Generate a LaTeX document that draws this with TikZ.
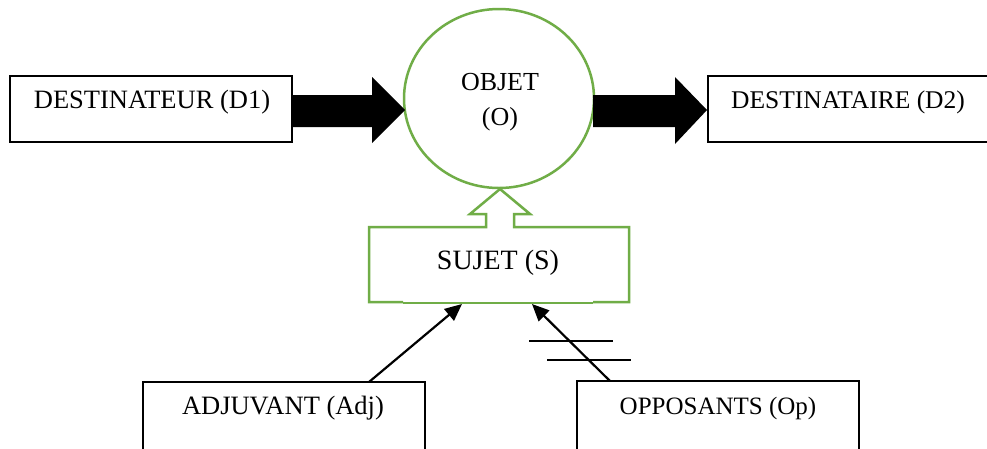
\documentclass[tikz,border=0pt]{standalone}
\usepackage{fontspec}
\setmainfont{Liberation Serif}
\usetikzlibrary{shapes.geometric,arrows.meta}
\definecolor{ogreen}{HTML}{70AD47}
\begin{document}
\begin{tikzpicture}[x=1pt,y=-1pt,
  boxnode/.style={draw=black,line width=2pt,rectangle,inner sep=0pt},
  lbl/.style={inner sep=0pt,font=\fontsize{26}{35}\selectfont,align=center},
  blockarrow/.style={fill=black},
  link/.style={draw=black,line width=2.2pt,-{Triangle[length=17pt,width=15pt]}},
  bar/.style={draw=black,line width=1.5pt}]
\useasboundingbox (0,0) rectangle (987,448);
\fill[white] (0,0) rectangle (987,448);
% boxes
\node[boxnode,minimum width=282pt,minimum height=66pt] (d1) at (151,109) {};
\node[lbl,font=\fontsize{26.5}{30}\selectfont] (d1t) at (152,102) {DESTINATEUR (D1)};
\node[boxnode,minimum width=300pt,minimum height=66pt] (d2) at (858,109) {};
\node[lbl,font=\fontsize{25.5}{30}\selectfont] (d2t) at (848,102) {DESTINATAIRE (D2)};
\node[boxnode,minimum width=282pt,minimum height=90pt] (adj) at (284,427) {};
\node[lbl,font=\fontsize{26.5}{30}\selectfont] (adjt) at (283,408) {ADJUVANT (Adj)};
\node[boxnode,minimum width=282pt,minimum height=90pt] (op) at (718,426) {};
\node[lbl,font=\fontsize{25}{30}\selectfont] (opt) at (718,408) {OPPOSANTS (Op)};
% object
\node[ellipse,draw=ogreen,line width=2.5pt,minimum width=190pt,minimum height=179pt,inner sep=0pt] (obj) at (499,98.5) {};
\node[lbl] (objt) at (500,102.5) {OBJET\\(O)};
% sujet box with hollow arrow
\coordinate (stip) at (500,189);
\draw[ogreen,line width=2.5pt,line join=miter]
  (403,302) -- (369,302) -- (369,227) -- (486,227) -- (486,214) -- (470,214) -- (stip)
  -- (530,214) -- (514,214) -- (514,227) -- (629,227) -- (629,302) -- (593,302);
\draw[ogreen,line width=1.5pt] (403,303) -- (593,303);
\node[lbl,font=\fontsize{28}{30}\selectfont] (suj) at (498,263) {SUJET (S)};
% black block arrows
\fill[blockarrow] (d1.east |- 0,95) -- (372,95) -- (372,77) -- (405,110) -- (372,143) -- (372,127) -- (d1.east |- 0,127) -- cycle;
\fill[blockarrow] (593,95) -- (675,95) -- (675,77) -- (d2.west |- 0,110) -- (675,144) -- (675,127) -- (593,127) -- cycle;
% connectors
\coordinate (adjs) at (369,382);
\coordinate (adje) at (462,304);
\coordinate (ops) at (610,381);
\coordinate (ope) at (532,304);
\draw[link] (adjs) -- (adje);
\draw[link] (ops) -- (ope);
\draw[bar] (529,341) -- (613,341);
\draw[bar] (547,360) -- (631,360);
\end{tikzpicture}
\end{document}
